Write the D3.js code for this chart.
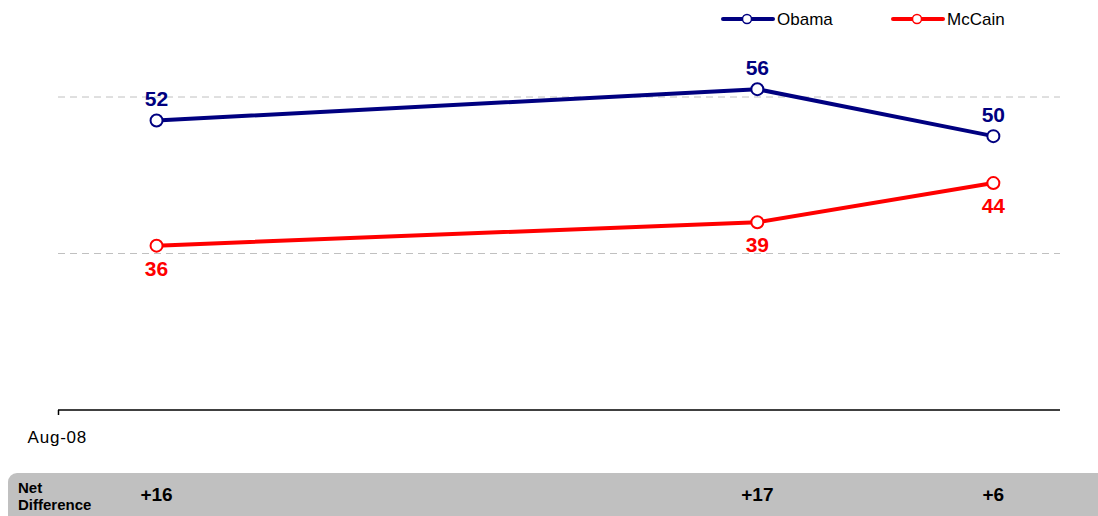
<!DOCTYPE html>
<html><head><meta charset="utf-8">
<script src="https://cdn.jsdelivr.net/npm/d3@7"></script>
<style>body{margin:0;background:#fff}svg{display:block;font-family:Arial,"Liberation Sans",sans-serif}</style>
</head><body><svg id="c" width="1098" height="516"></svg>
<script>
const dates = ["2008-08-10","2008-10-05","2008-10-27"];
const obama = [52,56,50];
const mccain = [36,39,44];
const netDiff = ["+16","+17","+6"];
const gridValues = [35,55];
const seriesNames = ["Obama","McCain"];
const colors = ["#000080","#FF0000"];

const parse = d3.timeParse("%Y-%m-%d");
const svg = d3.select("#c");
const x = d3.scaleTime().domain([parse("2008-08-01"), parse("2008-11-01")]).range([60,1047]);
const y = d3.scaleLinear().domain([15,55]).range([410,97]);

// grid
svg.selectAll(".grid").data(gridValues).enter().append("line")
  .attr("x1",58).attr("x2",1060).attr("y1",d=>y(d)).attr("y2",d=>y(d))
  .attr("stroke","#c0c0c0").attr("stroke-width",1).attr("stroke-dasharray","7,5");

// axis
const axis = d3.axisBottom(x).tickValues([parse("2008-08-01")]).tickFormat(d3.timeFormat("%b-%y")).tickSize(5).tickSizeOuter(0);
const gA = svg.append("g").attr("transform",`translate(0,${y(15)})`).call(axis);
gA.select(".domain").attr("d","M58,0H1060").attr("stroke","#000").attr("stroke-width",1.5);
gA.selectAll(".tick").attr("transform","translate(58.5,0)");
gA.selectAll(".tick line").attr("stroke","#000").attr("stroke-width",1.5);
gA.selectAll(".tick text").attr("font-size",17).attr("font-family","Arial, 'Liberation Sans', sans-serif")
  .attr("fill","#000").attr("text-anchor","start").attr("x",-31).attr("dy",0).attr("y",33).attr("letter-spacing","0.8px");

const series = [obama, mccain];
const line = d3.line().x((d,i)=>x(parse(dates[i]))).y(d=>y(d));
series.forEach((s,k)=>{
  svg.append("path").datum(s).attr("d",line).attr("fill","none")
    .attr("stroke",colors[k]).attr("stroke-width",4).attr("stroke-linejoin","round");
  svg.selectAll(".pt"+k).data(s).enter().append("circle")
    .attr("cx",(d,i)=>x(parse(dates[i]))).attr("cy",d=>y(d)).attr("r",6)
    .attr("fill","#fff").attr("stroke",colors[k]).attr("stroke-width",2);
  svg.selectAll(".lb"+k).data(s).enter().append("text")
    .attr("x",(d,i)=>x(parse(dates[i]))).attr("y",d=>k===0? y(d)-14 : y(d)+30)
    .attr("text-anchor","middle").attr("font-size",21).attr("font-weight","bold")
    .attr("fill",colors[k]).text(d=>d);
});

// legend
const legX = [723, 893];
seriesNames.forEach((n,k)=>{
  const g = svg.append("g").attr("transform",`translate(${legX[k]},19)`);
  g.append("line").attr("x1",0).attr("x2",50).attr("y1",0).attr("y2",0).attr("stroke",colors[k]).attr("stroke-width",4).attr("stroke-linecap","round");
  g.append("circle").attr("cx",24).attr("cy",0).attr("r",4.5).attr("fill","#fff").attr("stroke",colors[k]).attr("stroke-width",1.5);
  g.append("text").attr("x",54).attr("y",6).attr("font-size",17).attr("fill","#000").text(n);
});

// net difference band
svg.append("rect").attr("x",8).attr("y",473).attr("width",1110).attr("height",60).attr("rx",9).attr("fill","#c0c0c0");
const lbl = svg.append("text").attr("font-size",15).attr("font-weight","bold").attr("fill","#000");
lbl.append("tspan").attr("x",18).attr("y",493).text("Net");
lbl.append("tspan").attr("x",18).attr("y",510).text("Difference");
svg.selectAll(".nd").data(netDiff).enter().append("text")
  .attr("x",(d,i)=>x(parse(dates[i]))).attr("y",501).attr("text-anchor","middle")
  .attr("font-size",19).attr("font-weight","bold").attr("fill","#000").text(d=>d);
</script></body></html>
